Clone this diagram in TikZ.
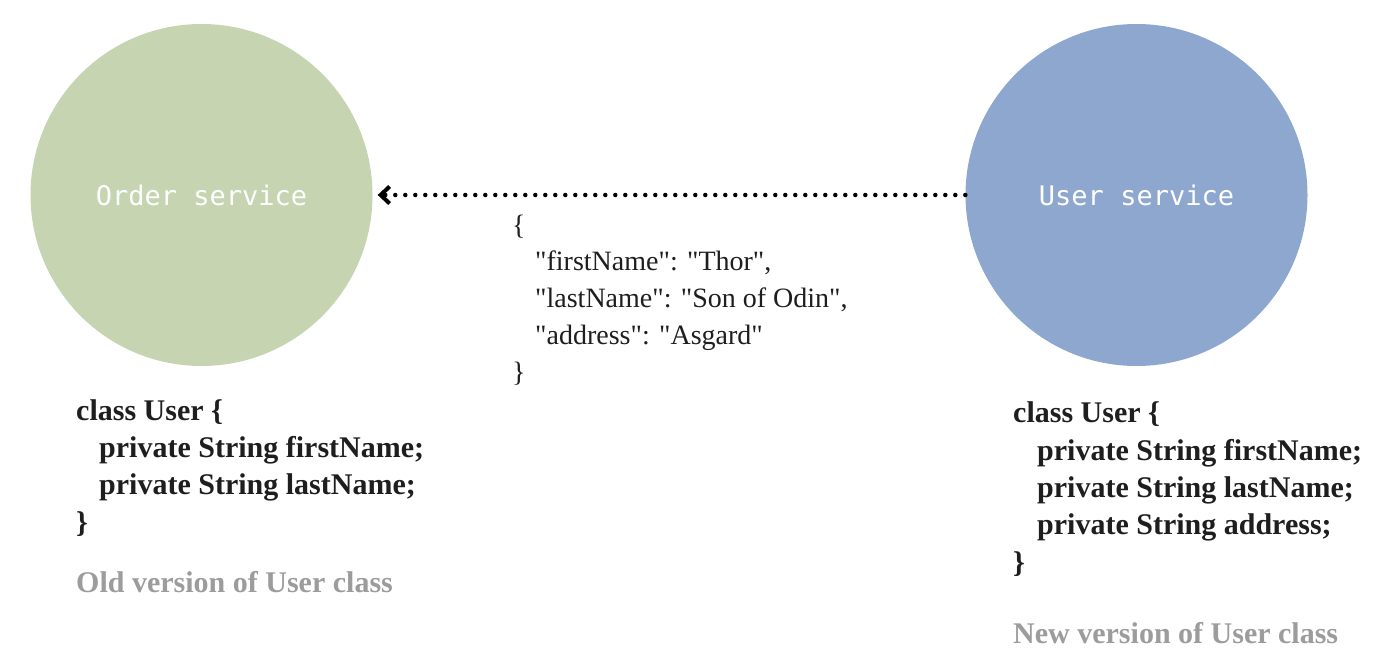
\documentclass[tikz,border=0pt]{standalone}
\usepackage{fontspec}
\setmainfont{Liberation Serif}[Ligatures=TeXOff]
\newfontfamily\servicefont{DejaVu Sans Mono}
\usetikzlibrary{positioning,arrows.meta}
\definecolor{ordergreen}{HTML}{C6D4B1}
\definecolor{userblue}{HTML}{8DA7CF}
\definecolor{notegray}{HTML}{9C9C9C}
\definecolor{codeblack}{HTML}{1E1E1E}

\begin{document}
\begin{tikzpicture}[x=1pt, y=-1pt,
    service/.style={circle, minimum size=342pt, inner sep=0pt, text=white,
      font=\servicefont\fontsize{27}{27}\selectfont},
    classcode/.style={anchor=base west, align=left, inner sep=0pt, text=codeblack,
      font=\bfseries\fontsize{30}{37.3}\selectfont},
    note/.style={anchor=base west, inner sep=0pt, text=notegray,
      font=\bfseries\fontsize{30}{30}\selectfont},
    payload/.style={anchor=base west, align=left, inner sep=0pt, text=codeblack,
      font=\fontsize{28}{36.7}\selectfont},
    message/.style={line width=4.5pt, line cap=round, dash pattern=on 0pt off 10pt,
      shorten >=5pt, -{Straight Barb[length=9pt,width=17pt,line width=4pt]}}]
  \useasboundingbox (0,0) rectangle (1400,666);
  % the two services
  \node[service, fill=ordergreen] (order) at (201.5,195) {Order service};
  \node[service, fill=userblue] (user) at (1136.5,195) {User service};
  % message sent by the user service (base = last line)
  \draw[message] (user) -- (order);
  \node[payload] (json) at (512,381) {\{\\
    \hspace*{23pt}"firstName": "Thor",\\
    \hspace*{23pt}"lastName": "Son of Odin",\\
    \hspace*{23pt}"address": "Asgard"\\
    \}};
  % class versions
  \node[classcode] (oldclass) at (76,532) {class User \{\\
    \hspace*{23pt}private String firstName;\\
    \hspace*{23pt}private String lastName;\\
    \}};
  \node[note] (oldnote) at (76,592) {Old version of User class};
  \node[classcode] (newclass) at (1013,572) {class User \{\\
    \hspace*{24pt}private String firstName;\\
    \hspace*{24pt}private String lastName;\\
    \hspace*{24pt}private String address;\\
    \}};
  \node[note] (newnote) at (1013,643) {New version of User class};
\end{tikzpicture}
\end{document}
